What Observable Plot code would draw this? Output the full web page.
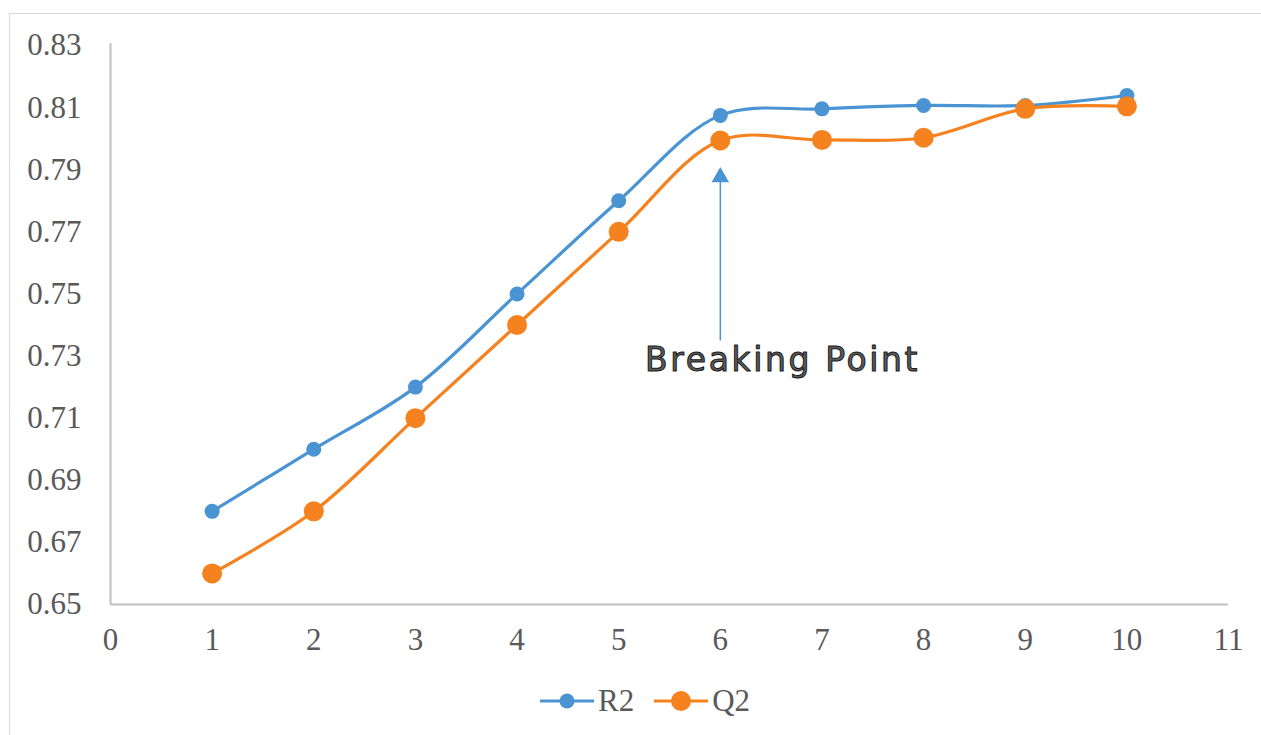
<!DOCTYPE html>
<html>
<head>
<meta charset="utf-8">
<script src="https://cdn.jsdelivr.net/npm/d3@7"></script>
<script src="https://cdn.jsdelivr.net/npm/@observablehq/plot@0.6"></script>
<style>
  html, body { margin: 0; padding: 0; background: #fff; }
  #wrap { position: relative; width: 1261px; height: 735px; overflow: hidden; }
  #frame { position: absolute; left: 9px; top: 13px; width: 1270px; height: 740px; border: 1.5px solid #d9d9d9; box-sizing: border-box; }
  #chart { position: absolute; left: 0; top: 0; }
  #legend { position: absolute; left: 540px; top: 683px; display: flex; align-items: center; font-family: "Liberation Serif", "Times New Roman", serif; font-size: 31px; color: #595959; }
  #legend .item { display: flex; align-items: center; margin-right: 20px; }
  #legend svg { display: block; margin-right: 4px; }
  .anno text { letter-spacing: 2.6px; }
</style>
</head>
<body>
<div id="wrap">
  <div id="frame"></div>
  <div id="chart"></div>
  <div id="legend"></div>
</div>
<script>
// Data
const xs = [1, 2, 3, 4, 5, 6, 7, 8, 9, 10];
const r2 = [0.68, 0.70, 0.72, 0.75, 0.78, 0.8075, 0.8096, 0.8107, 0.8107, 0.8139];
const q2 = [0.66, 0.68, 0.71, 0.74, 0.77, 0.7994, 0.7996, 0.8003, 0.8096, 0.8104];
const xTicks = [0, 1, 2, 3, 4, 5, 6, 7, 8, 9, 10, 11];
const yTicks = [0.65, 0.67, 0.69, 0.71, 0.73, 0.75, 0.77, 0.79, 0.81, 0.83];
const seriesNames = ["R2", "Q2"];
const seriesColors = ["#4a94d3", "#f5811f"];
const seriesRadius = [7.5, 10];
// Annotation (data coordinates)
const annoText = ["Breaking Point"];
const annoX = [6];
const annoShaft = [0.735, 0.7876];
const annoTextPos = [5.26, 0.7286];

const rows = [];
seriesNames.forEach((s, i) => {
  const vals = i === 0 ? r2 : q2;
  xs.forEach((x, j) => rows.push({series: s, x, y: vals[j]}));
});
const byS = s => rows.filter(d => d.series === s);

const fontSerif = '"Liberation Serif", "Times New Roman", serif';

const plot = Plot.plot({
  width: 1261,
  height: 680,
  marginLeft: 110,
  marginRight: 33,
  marginTop: 45,
  marginBottom: 76,
  style: {fontFamily: fontSerif, fontSize: "31px", color: "#595959", background: "transparent"},
  x: {domain: [0, 11], ticks: xTicks, tickSize: 0, tickPadding: 23, label: null, tickFormat: d => String(d)},
  y: {domain: [0.65, 0.83], ticks: yTicks, tickSize: 0, tickPadding: 29, label: null, tickFormat: d => d.toFixed(2)},
  marks: [
    Plot.ruleX([0], {stroke: "#bfbfbf", strokeWidth: 2, y1: 0.65, y2: 0.8306}),
    Plot.ruleY([0.65], {stroke: "#bfbfbf", strokeWidth: 2}),
    ...seriesNames.map((s, i) => Plot.line(byS(s), {x: "x", y: "y", stroke: seriesColors[i], strokeWidth: 3.2, curve: "catmull-rom"})),
    ...seriesNames.map((s, i) => Plot.dot(byS(s), {x: "x", y: "y", fill: seriesColors[i], r: seriesRadius[i]})),
    Plot.link([0], {x1: () => annoX[0], x2: () => annoX[0], y1: () => annoShaft[0], y2: () => annoShaft[1], stroke: "#4a94d3", strokeWidth: 1.5}),
    Plot.dot([0], {x: () => annoX[0], y: () => annoShaft[1], symbol: "triangle", r: 6.5, fill: "#4a94d3"}),
    Plot.text(annoText, {x: () => annoTextPos[0], y: () => annoTextPos[1], text: d => d, textAnchor: "start", className: "anno",
      fontFamily: '"DejaVu Sans", Verdana, sans-serif', fontSize: 33, fill: "#5a5a5a", stroke: "#1a1a1a", strokeWidth: 1, paintOrder: "fill"})
  ]
});
document.getElementById("chart").appendChild(plot);
plot.querySelectorAll("text").forEach(t => { if (t.textContent === annoText[0]) t.style.letterSpacing = "2.6px"; });

// Legend (HTML, below the plot)
const legend = document.getElementById("legend");
seriesNames.forEach((s, i) => {
  const item = document.createElement("div");
  item.className = "item";
  item.innerHTML = `<svg width="54" height="24"><line x1="0" x2="54" y1="12" y2="12" stroke="${seriesColors[i]}" stroke-width="3.2"/><circle cx="27" cy="12" r="${seriesRadius[i]}" fill="${seriesColors[i]}"/></svg><span>${s}</span>`;
  legend.appendChild(item);
});
</script>
</body>
</html>
